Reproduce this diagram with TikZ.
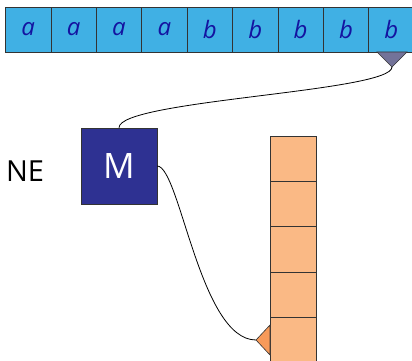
\documentclass[tikz,border=0pt]{standalone}
\usepackage{fontspec}
\setmainfont{Open Sans}
\begin{document}
\begin{tikzpicture}[x=1pt,y=-1pt,
  tapecell/.style={draw=black!80,fill=tapecol,line width=0.6pt},
  stackcell/.style={draw=black!80,fill=stackcol,line width=0.6pt},
  sym/.style={text=symcol,font=\fontsize{24}{26}\selectfont\itshape},
  wire/.style={line width=0.8pt}]
\definecolor{tapecol}{HTML}{40B0E4}
\definecolor{symcol}{HTML}{1414A0}
\definecolor{stackcol}{HTML}{FAB985}
\definecolor{headcol}{HTML}{737399}
\definecolor{mcol}{HTML}{2E3192}
\definecolor{ptrcol}{HTML}{F79A5A}
\useasboundingbox (0,0) rectangle (412,361);
% tape
\foreach \i/\s in {0/a,1/a,2/a,3/a,4/b,5/b,6/b,7/b,8/b}{
  \path[tapecell] (5.5+45.4*\i,7) rectangle (5.5+45.4*\i+45.4,52);
  \node[sym] (t\i) at (5.5+45.4*\i+22.7,29.5) {\s};
}
% head
\draw[draw=black!80,fill=headcol,line width=0.6pt] (377,52) -- (407,52) -- (392,67) -- cycle;
\coordinate (head) at (392,67);
% machine
\node[draw=black!80,fill=mcol,line width=0.6pt,minimum width=76pt,minimum height=76pt,
  text=white,font=\fontsize{35}{37}\selectfont] (M) at (119,166) {M};
\node[font=\fontsize{29}{31}\selectfont] (NE) at (25,171) {NE};
% stack
\foreach \j in {0,1,2,3,4}{
  \path[stackcell] (270,136+45.3*\j) rectangle (316,136+45.3*\j+45.3);
}
\path[stackcell] (270,362) -- (270,317) -- (316,317) -- (316,362);
\draw[draw=black!80,fill=ptrcol,line width=0.6pt] (270,325) -- (256,340) -- (270,355) -- cycle;
\coordinate (ptr) at (256,340);
% wires
\draw[wire] (head) .. controls (392,92) and (119,100) .. (M.north);
\draw[wire] (M.east) .. controls (180,167) and (200,340) .. (ptr);
\end{tikzpicture}
\end{document}
